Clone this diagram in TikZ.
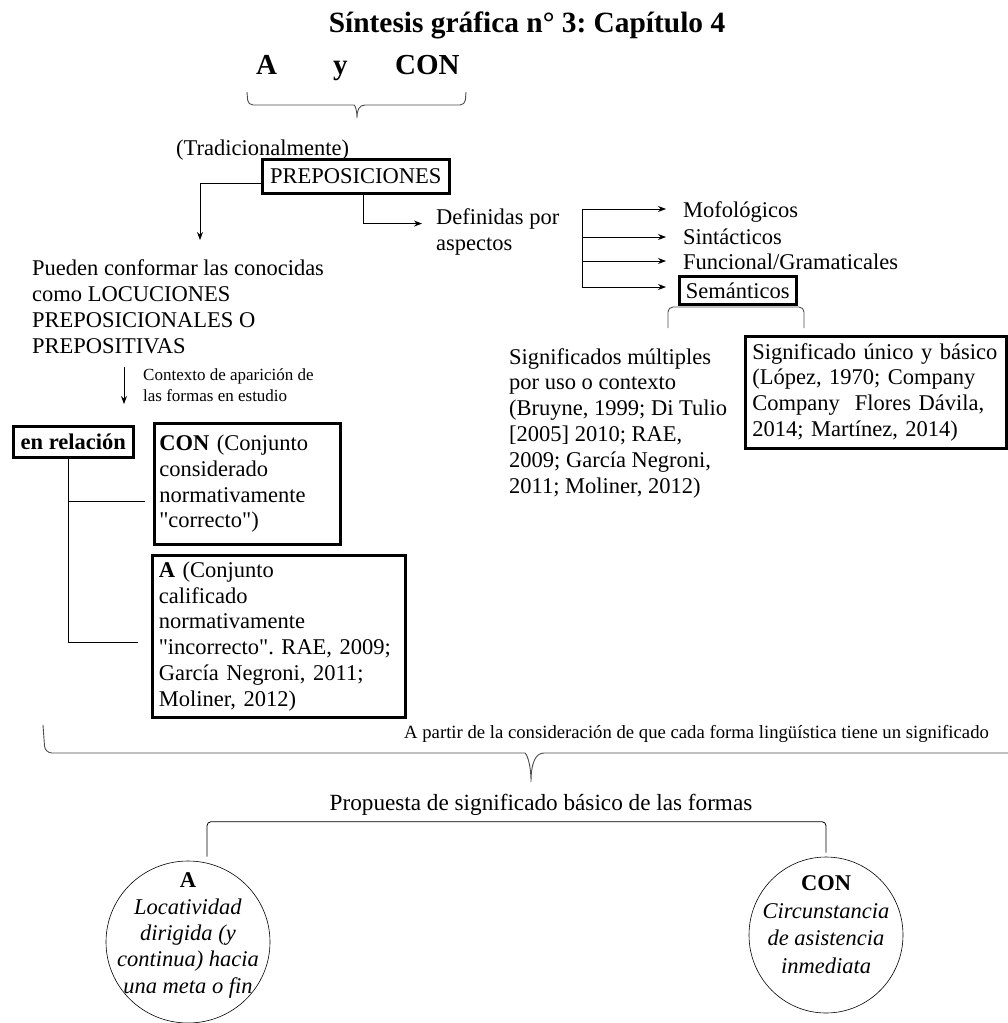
\documentclass[tikz,border=0pt]{standalone}
\usepackage{fontspec}
\setmainfont{Liberation Serif}[Ligatures=TeXOff]
\frenchspacing
\usetikzlibrary{arrows.meta,shapes.geometric}

\tikzset{
  txt/.style={inner sep=0pt, align=left, font=\fontsize{22.5}{25.8}\selectfont},
  small/.style={inner sep=0pt, align=left, font=\fontsize{17}{21}\selectfont},
  box/.style={draw, line width=2.6pt, inner xsep=6pt, inner ysep=0pt, font=\fontsize{22.5}{25.8}\selectfont},
  link/.style={line width=0.8pt},
  arr/.style={line width=0.8pt, -{Stealth[length=8pt,width=6pt]}},
  brc/.style={line width=0.9pt, draw=black!70, rounded corners=5pt},
  oval/.style={draw, ellipse, line width=0.6pt, inner sep=0pt}
}

\begin{document}
\begin{tikzpicture}[x=1pt,y=-1pt]
\useasboundingbox (0,0) rectangle (1008,1023);
% titulo y formas
\node[anchor=base, inner sep=0pt, font=\fontsize{29.4}{32}\selectfont\bfseries] (titulo) at (527,32) {Síntesis gráfica n° 3: Capítulo 4};
\node[anchor=base west, inner sep=0pt, font=\fontsize{29}{32}\selectfont\bfseries] (formaA) at (256,74) {A};
\node[anchor=base west, inner sep=0pt, font=\fontsize{29}{32}\selectfont\bfseries] (formaY) at (333,74) {y};
\node[anchor=base west, inner sep=0pt, font=\fontsize{29}{32}\selectfont\bfseries] (formaCON) at (395,74) {CON};
\draw[brc] (247,92) -- (248,105) -- (349,105) [sharp corners] .. controls (355,105) and (357,110) .. (357,118)
  .. controls (357,110) and (359,105) .. (365,105) [rounded corners=5pt] -- (465,105) -- (466,92);

\node[txt, anchor=base west] (trad) at (176,155) {(Tradicionalmente)};
\node[box, minimum width=187pt, minimum height=34pt, anchor=north west] (prep) at (261,158) {PREPOSICIONES};

% rama izquierda
\node[txt, anchor=base west] (pueden) at (32,353) {Pueden conformar las conocidas\\como LOCUCIONES\\PREPOSICIONALES O\\PREPOSITIVAS};
\coordinate (puedenIn) at (200,240);
\draw[arr] ([yshift=-7pt]prep.west) -| (puedenIn);

% rama derecha
\node[txt, anchor=base west] (definidas) at (436,250) {Definidas por\\aspectos};
\draw[arr] ([xshift=7.5pt]prep.south) |- ([xshift=-14pt,yshift=8pt]definidas.west);

\node[txt, anchor=base west] (mofo) at (683,217) {Mofológicos};
\node[txt, anchor=base west] (sinta) at (683,244) {Sintácticos};
\node[txt, anchor=base west] (funci) at (683,269) {Funcional/Gramaticales};
\draw[brc] (668,328) -- (668,307) -- (804,307) -- (804,328);
\node[box, fill=white, minimum width=117pt, minimum height=28pt, anchor=north west] (seman) at (678,275) {Semánticos};

\coordinate (asp1) at (582,209);
\coordinate (asp2) at (582,237);
\coordinate (asp3) at (582,261);
\coordinate (asp4) at (582,287);
\draw[link] (asp1) -- (asp4);
\draw[arr, shorten >=17pt] (asp1) -- (asp1 -| mofo.west);
\draw[arr, shorten >=17pt] (asp2) -- (asp2 -| sinta.west);
\draw[arr, shorten >=17pt] (asp3) -- (asp3 -| funci.west);
\draw[arr, shorten >=12pt] (asp4) -- (asp4 -| seman.west);

\node[txt, anchor=base west] (multiples) at (509,493) {Significados múltiples\\por uso o contexto\\(Bruyne, 1999; Di Tulio\\{[}2005{]} 2010; RAE,\\2009; García Negroni,\\2011; Moliner, 2012)};
\node[box, align=left, text width=247pt, inner xsep=7pt, minimum height=112pt, anchor=north west] (unico) at (744,335) {Significado único y básico\\(López, 1970; Company\\Company\ \ Flores Dávila,\\2014; Martínez, 2014)};

% contexto
\node[small, anchor=base west] (contexto) at (143,401) {Contexto de aparición de\\las formas en estudio};
\coordinate (ctxTop) at (124,367);
\coordinate (ctxEnd) at (124,404);
\draw[arr] (ctxTop) -- (ctxEnd);

\node[box, minimum width=120pt, minimum height=31pt, anchor=north west] (relacion) at (12,425) {\textbf{en relación}};
\node[box, align=left, text width=176pt, inner xsep=5pt, minimum height=121pt, anchor=north west] (conBox) at (153,422) {\textbf{CON} (Conjunto\\considerado\\normativamente\\"correcto")};
\node[box, align=left, text width=240pt, inner xsep=6.5pt, minimum height=162pt, anchor=north west] (aBox) at (151,554) {\textbf{A} (Conjunto\\calificado\\normativamente\\"incorrecto". RAE, 2009;\\García Negroni, 2011;\\Moliner, 2012)};

\coordinate (trunk) at ([xshift=-5pt]relacion.south);
\coordinate (conIn) at ([xshift=-8pt,yshift=-17.5pt]conBox.west);
\coordinate (aIn) at ([xshift=-13pt,yshift=-6pt]aBox.west);
\draw[link] (trunk) |- (aIn);
\draw[link] (trunk |- conIn) -- (conIn);

% propuesta
\draw[brc, rounded corners=7pt] (43,725) -- (45,753) -- (518,753) [sharp corners] .. controls (526,753) and (531,762) .. (531,782)
  .. controls (531,762) and (536,753) .. (544,753) -- (1012,753);
\node[anchor=base west, inner sep=0pt, font=\fontsize{18.7}{21}\selectfont] (partir) at (404,738) {A partir de la consideración de que cada forma lingüística tiene un significado};
\node[anchor=base, inner sep=0pt, font=\fontsize{23.2}{25}\selectfont] (propuesta) at (541,810) {Propuesta de significado básico de las formas};

\node[oval, minimum width=164pt, minimum height=162pt] (ovalA) at (188,942) {};
\node[inner sep=0pt, align=center, anchor=base, font=\fontsize{22.5}{26.3}\selectfont] (textoA) at (188,993) {\textbf{A}\\\textit{Locatividad}\\\textit{dirigida (y}\\\textit{continua) hacia}\\\textit{una meta o fin}};
\node[oval, minimum width=154pt, minimum height=156pt] (ovalCON) at (826,935) {};
\node[inner sep=0pt, align=center, anchor=base, font=\fontsize{22.5}{27.5}\selectfont] (textoCON) at (826,973) {\textbf{CON}\\\textit{Circunstancia}\\\textit{de asistencia}\\\textit{inmediata}};

\coordinate (brA) at ([xshift=19pt,yshift=4pt]ovalA.north);
\coordinate (brC) at ([yshift=4pt]ovalCON.north);
\draw[link, rounded corners=4pt] (brA) -- ++(0,-35) -| (brC);
\end{tikzpicture}
\end{document}
